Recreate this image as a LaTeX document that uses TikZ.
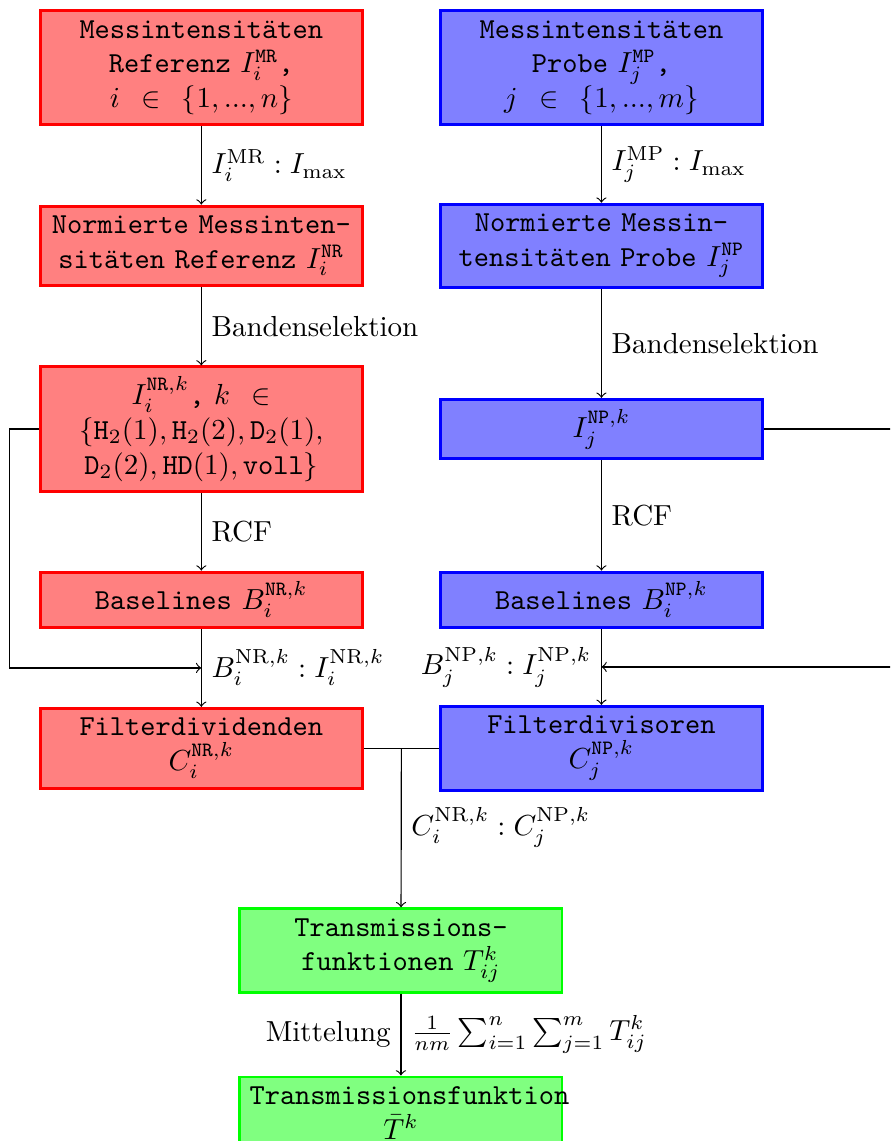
\documentclass[tikz,border=0pt]{standalone}
\usepackage{amsmath}
\usepackage{amssymb}
\usepackage{xcolor}
\usepackage{tikz}
\usetikzlibrary{arrows,calc}
\usetikzlibrary{positioning}

\begin{document}
\begin{tikzpicture}
      \tikzstyle{refbox}=[draw=red, line width=1pt, fill=red!50, text width=3.67cm, align=center, font=\ttfamily]
      \tikzstyle{probox}=[refbox, draw=blue, fill=blue!50]
      \tikzstyle{tfbox}=[refbox, draw=green, fill=green!50]
\useasboundingbox (0,0) rectangle (10.79,-13.83);
\clip (0,0) rectangle (10.79,-13.83);
% Referenz
    \node[refbox] (mr) at (2.44,-0.82) {Messintensitäten\\ Referenz $I_i^{\texttt{MR}}$,\\ $i$\hspace{7.4pt}$\in$\hspace{7.4pt}$\{1,...,n\}$};
    \node[refbox] (nr) at (2.44,-2.98) {Normierte Messinten-\\sitäten Referenz $I_i^{\texttt{NR}}$};
    \node[refbox] (nrk) at (2.44,-5.2) {$I_i^{\texttt{NR},k}$, $k$\hspace{7.4pt}$\in$\\ $\{\texttt{H}_2(1),\texttt{H}_2(2),\texttt{D}_2(1),$\\ $\texttt{D}_2(2),\texttt{HD}(1),\texttt{voll}\}$};
    \node[refbox] (bl) at (2.44,-7.27) {Baselines $B_i^{\texttt{NR},k}$};
    \node[refbox] (fl) at (2.44,-9.07) {Filterdividenden\\ $C_i^{\texttt{NR},k}$};
% Probe
    \node[probox] (mp) at (7.29,-0.82) {Messintensitäten\\ Probe $I_j^{\texttt{MP}}$,\\ $j$\hspace{7.4pt}$\in$\hspace{7.4pt}$\{1,...,m\}$};
    \node[probox] (np) at (7.29,-2.98) {Normierte Messin-\\tensitäten Probe $I_j^{\texttt{NP}}$};
    \node[probox] (npk) at (7.29,-5.2) {$I_j^{\texttt{NP},k}$};
    \node[probox] (br) at (7.29,-7.27) {Baselines $B_i^{\texttt{NP},k}$};
    \node[probox] (fr) at (7.29,-9.07) {Filterdivisoren\\ $C_j^{\texttt{NP},k}$};
% Transmission
    \node[tfbox] (t) at (4.86,-11.52) {Transmissions-\\funktionen $T_{ij}^k$};
    \node[tfbox] (tbar) at (4.86,-13.49) {Transmissionsfunktion\\ $\bar{T}^k$};

    \draw[->] (mr) -- node[right] {$I_i^{\mathrm{MR}} : I_{\max}$} (nr);
    \draw[->] (nr) -- node[right] {Bandenselektion} (nrk);
    \draw[->] (nrk) -- node[right] {RCF} (bl);
    \draw[->] (bl) -- node[right] {$B_i^{\mathrm{NR},k} : I_i^{\mathrm{NR},k}$} coordinate[midway] (jl) (fl);

    \draw[->] (mp) -- node[right] {$I_j^{\mathrm{MP}} : I_{\max}$} (np);
    \draw[->] (np) -- node[right] {Bandenselektion} (npk);
    \draw[->] (npk) -- node[right] {RCF} (br);
    \draw[->] (br) -- node[left] {$B_j^{\mathrm{NP},k} : I_j^{\mathrm{NP},k}$} coordinate[midway] (jr) (fr);

    \draw[->] (nrk.west) -- ++(-0.36,0) |- (jl);
    \draw[->] (npk.east) -- ++(1.8,0) |- (jr);

    \coordinate (fm) at ($(fl.east)!0.5!(fr.west)$);
    \draw (fl.east) -- (fr.west);
    \draw[->] (fm) -- node[right] {$C_i^{\mathrm{NR},k} : C_j^{\mathrm{NP},k}$} (t);
    \draw[->] (t) -- node[left] {Mittelung} node[right] {$\frac{1}{nm}\sum_{i=1}^n \sum_{j=1}^m T_{ij}^k$} (tbar);
   \end{tikzpicture}
\end{document}
